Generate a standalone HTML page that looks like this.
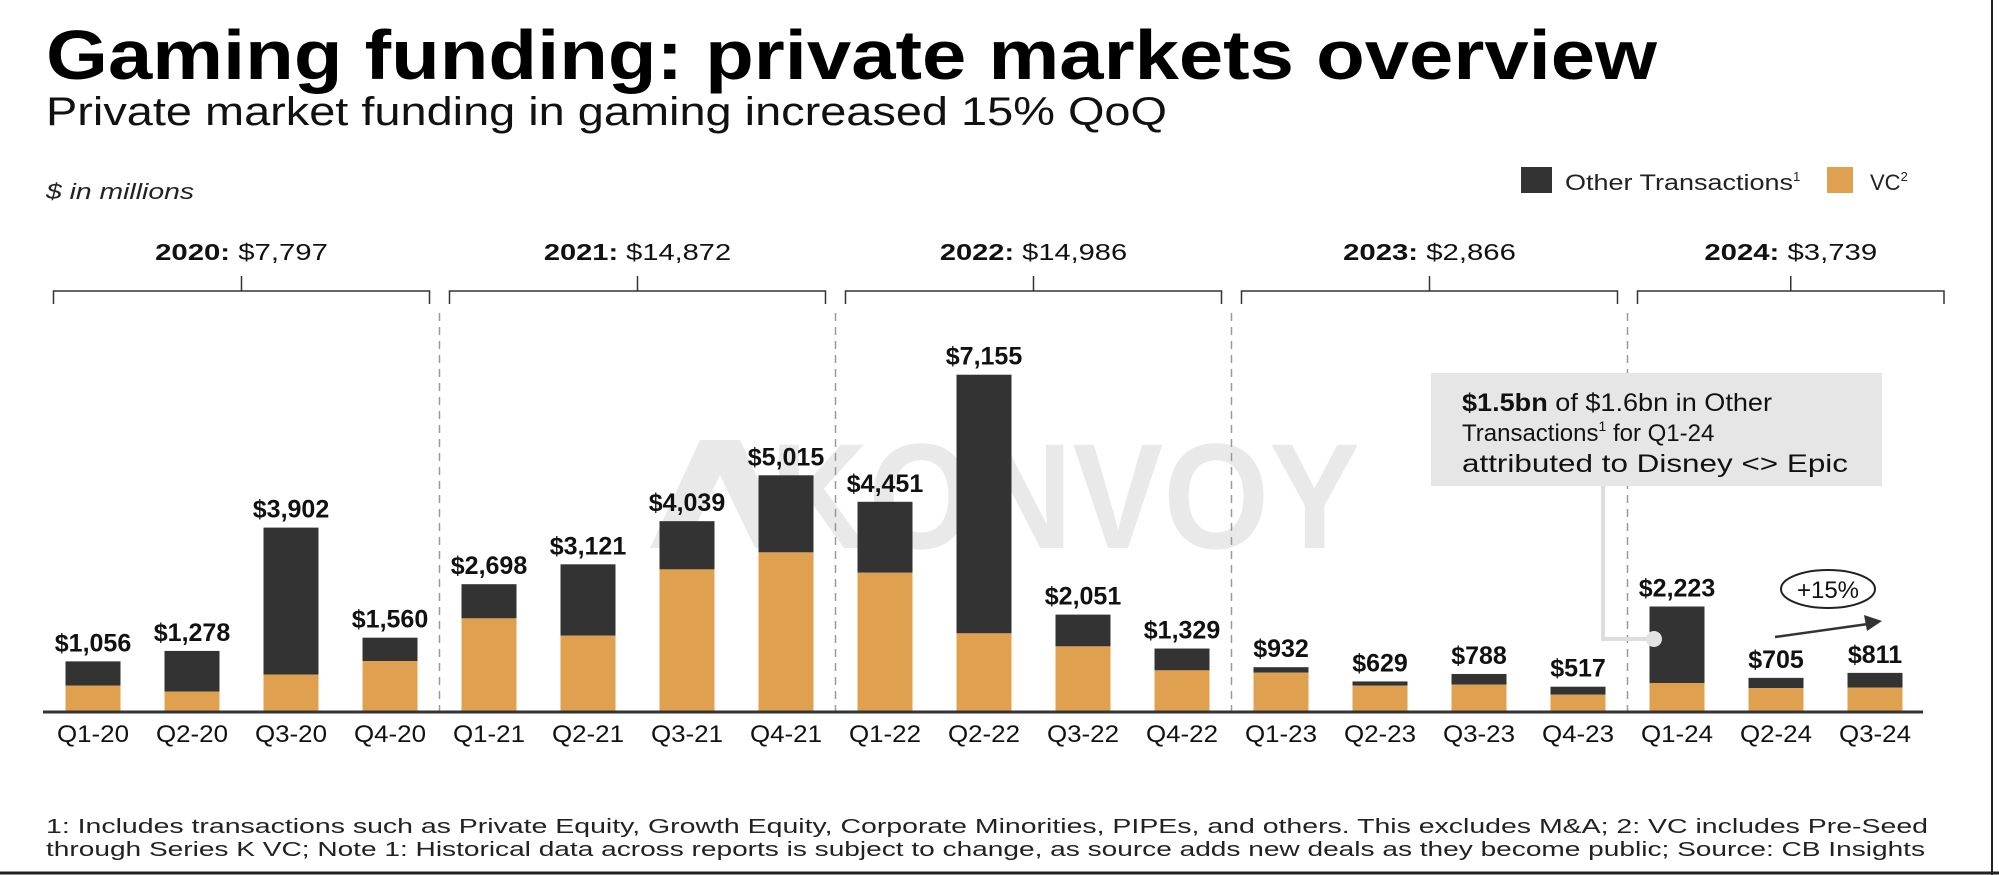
<!DOCTYPE html>
<html><head><meta charset="utf-8"><style>
html,body{margin:0;padding:0;background:#fff;}
svg{display:block;font-family:"Liberation Sans",Arial,sans-serif;}
</style></head><body>
<svg id="chart" width="1999" height="875" viewBox="0 0 1999 875" xmlns="http://www.w3.org/2000/svg">
<rect x="0" y="0" width="1999" height="875" fill="#fff"/>
<line x1="1992" y1="0" x2="1992" y2="875" stroke="#222" stroke-width="2"/>
<line x1="0" y1="873" x2="1999" y2="873" stroke="#222" stroke-width="3"/>
<text x="46" y="79" font-size="70" font-weight="bold" fill="#000" textLength="1611" lengthAdjust="spacingAndGlyphs">Gaming funding: private markets overview</text>
<text x="46" y="125" font-size="40" fill="#111" textLength="1121" lengthAdjust="spacingAndGlyphs">Private market funding in gaming increased 15% QoQ</text>
<text x="46" y="199" font-size="22" font-style="italic" fill="#222" textLength="148" lengthAdjust="spacingAndGlyphs">$ in millions</text>
<g>
<rect x="1521" y="167" width="31" height="26" fill="#333"/>
<text x="1565" y="190" font-size="22" fill="#222"><tspan textLength="228" lengthAdjust="spacingAndGlyphs">Other Transactions</tspan><tspan font-size="13" dy="-9">1</tspan></text>
<rect x="1827" y="167" width="26" height="26" fill="#DFA04F"/>
<text x="1870" y="190" font-size="22" fill="#222">VC<tspan font-size="13" dy="-9">2</tspan></text>
</g>
<g fill="#e9e9e9">
<polygon points="650,548 700,440 740,440 790,548 755,548 720,475 685,548"/>
<text x="770" y="548" font-size="150" font-weight="bold" textLength="590" lengthAdjust="spacingAndGlyphs">KONVOY</text>
</g>
<g id="plot"></g>
<g>
<polyline points="1603,486 1603,639 1652,639" fill="none" stroke="#ddd" stroke-width="4"/>
<circle cx="1654" cy="639" r="8" fill="#e2e2e2"/>
<rect x="1431" y="373" width="451" height="113" fill="#e6e6e6"/>
<text x="1462" y="411" font-size="25" fill="#111" textLength="310" lengthAdjust="spacingAndGlyphs"><tspan font-weight="bold">$1.5bn</tspan> of $1.6bn in Other</text>
<text x="1462" y="441" font-size="24" fill="#111">Transactions<tspan font-size="14" dy="-10">1</tspan><tspan dy="10"> for Q1-24</tspan></text>
<text x="1462" y="472" font-size="25" fill="#111" textLength="386" lengthAdjust="spacingAndGlyphs">attributed to Disney &lt;&gt; Epic</text>
</g>
<g>
<ellipse cx="1828" cy="589" rx="47" ry="19" fill="none" stroke="#222" stroke-width="2"/>
<text x="1828" y="598" font-size="24" text-anchor="middle" fill="#111">+15%</text>
<line x1="1775" y1="637" x2="1868" y2="624" stroke="#333" stroke-width="2.5"/>
<polygon points="1882,621 1864,615 1867,631" fill="#333"/>
</g>
<text x="46" y="833" font-size="20" fill="#222" textLength="1882" lengthAdjust="spacingAndGlyphs">1: Includes transactions such as Private Equity, Growth Equity, Corporate Minorities, PIPEs, and others. This excludes M&amp;A; 2: VC includes Pre-Seed</text>
<text x="46" y="856" font-size="20" fill="#222" textLength="1879" lengthAdjust="spacingAndGlyphs">through Series K VC; Note 1: Historical data across reports is subject to change, as source adds new deals as they become public; Source: CB Insights</text>
</svg>
<script>
const categories = ["Q1-20","Q2-20","Q3-20","Q4-20","Q1-21","Q2-21","Q3-21","Q4-21","Q1-22","Q2-22","Q3-22","Q4-22","Q1-23","Q2-23","Q3-23","Q4-23","Q1-24","Q2-24","Q3-24"];
const totals = [1056,1278,3902,1560,2698,3121,4039,5015,4451,7155,2051,1329,932,629,788,517,2223,705,811];
const vcValues = [539,411,773,1064,1971,1602,3013,3375,2942,1652,1375,865,815,539,560,347,596,489,496];
const totalLabels = ["$1,056","$1,278","$3,902","$1,560","$2,698","$3,121","$4,039","$5,015","$4,451","$7,155","$2,051","$1,329","$932","$629","$788","$517","$2,223","$705","$811"];
const years = ["2020","2021","2022","2023","2024"];
const yearTotals = ["$7,797","$14,872","$14,986","$2,866","$3,739"];

const NS = "http://www.w3.org/2000/svg";
const plot = document.getElementById("plot");
const baseY = 711, pxPer = 0.047, x0 = 93, step = 99, barW = 55;
const xPos = i => x0 + i * step;
const yPos = v => baseY - v * pxPer;
function mk(tag, attrs, txt){
  const e = document.createElementNS(NS, tag);
  for (const k in attrs) e.setAttribute(k, attrs[k]);
  if (txt !== undefined) e.textContent = txt;
  plot.appendChild(e);
  return e;
}
for (let g = 1; g < years.length; g++) {
  const x = xPos(g * 4 - 0.5);
  const d = mk("line", {x1:x, y1:313, x2:x, y2:baseY, stroke:"#999", "stroke-width":1.5, "stroke-dasharray":"8,6"});
  
  
}
years.forEach((y, g) => {
  const l = xPos(g * 4) - barW / 2 - 12;
  const r = Math.min(xPos(g * 4 + 3) + barW / 2 + 12, 1944);
  const c = (l + r) / 2;
  const b = mk("path", {d:`M${l},304 L${l},291 L${c},291 L${c},276 M${c},291 L${r},291 L${r},304`, fill:"none", stroke:"#333", "stroke-width":1.5});
  
  
  const str = y + ": " + yearTotals[g];
  const t = mk("text", {x:c, y:260, "font-size":23, "text-anchor":"middle", fill:"#111", textLength: str.length * 14.4, lengthAdjust:"spacingAndGlyphs"});
  
  
  const s1 = document.createElementNS(NS, "tspan"); s1.setAttribute("font-weight","bold"); s1.textContent = y + ": ";
  const s2 = document.createElementNS(NS, "tspan"); s2.textContent = yearTotals[g];
  t.appendChild(s1); t.appendChild(s2);
});
categories.forEach((c, i) => {
  const x = xPos(i) - barW / 2;
  const other = mk("rect", {x:x, y:yPos(totals[i]), width:barW, height:(totals[i] - vcValues[i]) * pxPer, fill:"#333"});
  
  
  const vc = mk("rect", {x:x, y:yPos(vcValues[i]), width:barW, height:vcValues[i] * pxPer, fill:"#DFA04F"});
  
  
  const lab = mk("text", {x:xPos(i), y:yPos(totals[i]) - 10, "font-size":25, "font-weight":"bold", "text-anchor":"middle", fill:"#111"}, totalLabels[i]);
  
  
  const q = mk("text", {x:xPos(i), y:742, "font-size":24, "text-anchor":"middle", fill:"#111", textLength:72, lengthAdjust:"spacingAndGlyphs"}, c);
  
  
});
const ax = mk("line", {x1:43, y1:baseY + 1, x2:1923, y2:baseY + 1, stroke:"#333", "stroke-width":3});


</script>
</body></html>
